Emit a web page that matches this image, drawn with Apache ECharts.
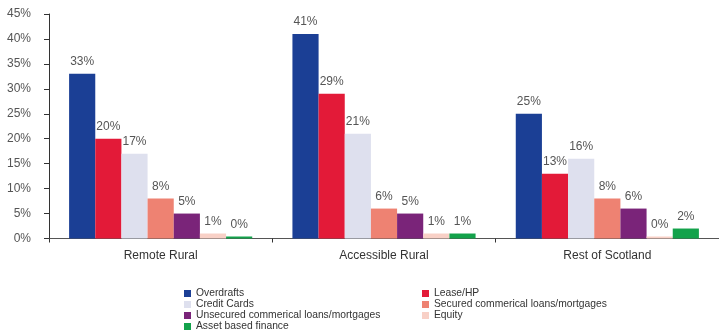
<!DOCTYPE html>
<html>
<head>
<meta charset="utf-8">
<script src="https://cdn.jsdelivr.net/npm/echarts@6/dist/echarts.min.js"></script>
<style>
  html, body { margin: 0; padding: 0; background: #fff; }
  #chart { width: 719px; height: 331px; }
</style>
</head>
<body>
<div id="chart"></div>
<script>
// Area types on the category axis
var categories = ['Remote Rural', 'Accessible Rural', 'Rest of Scotland'];

// Share of firms using each finance type (%)
var overdrafts = [33, 41, 25];
var leaseHP = [20, 29, 13];
var creditCards = [17, 21, 16];
var securedLoans = [8, 6, 8];
var unsecuredLoans = [5, 5, 6];
var equity = [1, 1, 0];
var assetFinance = [0, 1, 2];

var yTicks = { min: 0, max: 45, interval: 5 };

var seriesDefs = [
  { name: 'Overdrafts', data: overdrafts, color: '#1B3F95' },
  { name: 'Lease/HP', data: leaseHP, color: '#E31A38' },
  { name: 'Credit Cards', data: creditCards, color: '#DEE0EE' },
  { name: 'Secured commerical loans/mortgages', data: securedLoans, color: '#EE8272' },
  { name: 'Unsecured commerical loans/mortgages', data: unsecuredLoans, color: '#7A2479' },
  { name: 'Equity', data: equity, color: '#F8D0C6' },
  { name: 'Asset based finance', data: assetFinance, color: '#13A24B' }
];

var font = "'Liberation Sans', Arial, sans-serif";

var chart = echarts.init(document.getElementById('chart'), null, { renderer: 'canvas' });

// Two stacked legend columns under the plot
function legendBlock(names, left) {
  return {
    orient: 'vertical',
    left: left,
    top: 288,
    height: 80,
    itemWidth: 7,
    itemHeight: 7,
    itemGap: 0,
    icon: 'rect',
    padding: 0,
    selectedMode: false,
    data: names,
    textStyle: { fontFamily: font, fontSize: 10.3, color: '#333', lineHeight: 11 }
  };
}

chart.setOption({
  animation: false,
  color: seriesDefs.map(function (s) { return s.color; }),
  grid: { left: 49, right: -2, top: 14, bottom: 92.5, containLabel: false },
  legend: [
    legendBlock(['Overdrafts', 'Credit Cards', 'Unsecured commerical loans/mortgages', 'Asset based finance'], 184),
    legendBlock(['Lease/HP', 'Secured commerical loans/mortgages', 'Equity'], 422)
  ],
  xAxis: {
    type: 'category',
    data: categories,
    axisLine: { lineStyle: { color: '#555', width: 1 } },
    axisTick: { show: true, alignWithLabel: false, length: 4, lineStyle: { color: '#333' } },
    axisLabel: { fontFamily: font, fontSize: 12, color: '#333', margin: 11 }
  },
  yAxis: {
    type: 'value',
    min: yTicks.min,
    max: yTicks.max,
    interval: yTicks.interval,
    splitLine: { show: false },
    axisLine: { show: true, lineStyle: { color: '#333', width: 1 } },
    axisTick: { show: true, length: 5, lineStyle: { color: '#333' } },
    axisLabel: { fontFamily: font, fontSize: 12, color: '#555', margin: 18, formatter: '{value}%' }
  },
  series: seriesDefs.map(function (s) {
    return {
      name: s.name,
      type: 'bar',
      data: s.data,
      barGap: '0%',
      barCategoryGap: '18%',
      barMinHeight: 2,
      itemStyle: { color: s.color },
      label: {
        show: true,
        position: 'top',
        distance: 6,
        fontFamily: font,
        fontSize: 12,
        color: '#555',
        formatter: function (p) { return p.value + '%'; }
      }
    };
  })
});
</script>
</body>
</html>
